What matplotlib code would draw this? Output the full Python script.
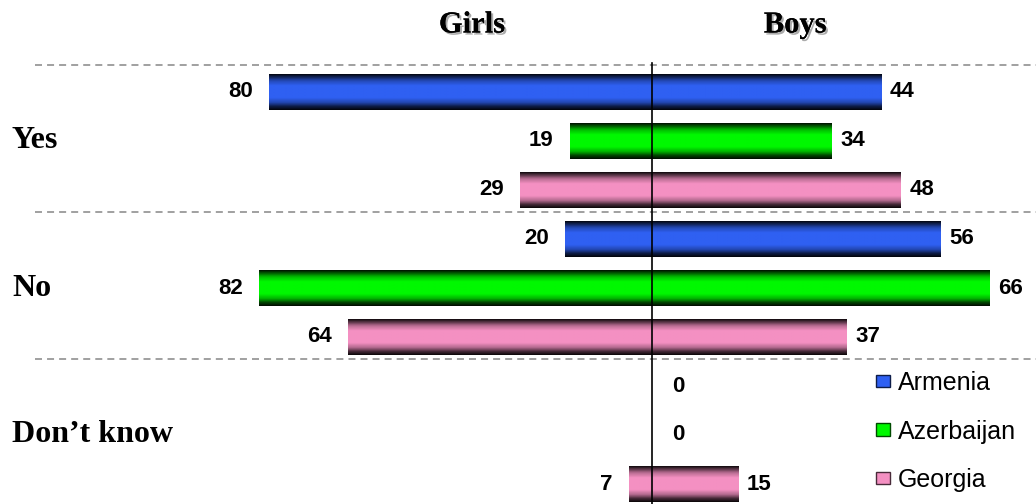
import numpy as np
import matplotlib
matplotlib.use("Agg")
import matplotlib.pyplot as plt
import matplotlib.transforms as mtrans
import matplotlib.patheffects as pe
from matplotlib.lines import Line2D
from matplotlib.patches import Patch

# --- data -------------------------------------------------------
answers   = ["Yes", "No", "Don\u2019t know"]
countries = ["Armenia", "Azerbaijan", "Georgia"]
girls = {"Armenia": [80, 20, 0], "Azerbaijan": [19, 82, 0], "Georgia": [29, 64, 7]}
boys  = {"Armenia": [44, 56, 0], "Azerbaijan": [34, 66, 0], "Georgia": [48, 37, 15]}
COL = {"Armenia": "#2f60f2", "Azerbaijan": "#00f800", "Georgia": "#f490c2"}

W, H = 1036, 504
fig = plt.figure(figsize=(W/100, H/100), dpi=100)

# one axis: girls drawn to the left (negative), boys to the right
ax = fig.add_axes([35/W, 0, (W-35)/W, 1])
ax.axis("off")
PX = 4.935          # pixels per percent
ZERO = 663.5        # pixel column of the zero line
ROW = 49.0

def grad(base):
    c = np.array(matplotlib.colors.to_rgb(base))
    t = np.linspace(0, 1, 60)
    f = np.interp(t, [0, .06, .18, .32, .66, .8, .9, 1], [.08, .3, .75, 1, 1, .72, .3, .05])
    return (f[:, None] * c[None, :])[:, None, :]

def shaded_bars(y, vals, base):
    bars = ax.barh(y, vals, height=0.73, color=base, lw=0, zorder=2)
    for b in bars:
        if b.get_width() == 0:
            continue
        x0, y0, w, h = b.get_x(), b.get_y(), b.get_width(), b.get_height()
        im = ax.imshow(grad(base), extent=(x0, x0+w, y0+h, y0), aspect="auto",
                       interpolation="bilinear", zorder=3)
        im.set_clip_path(b)
    return bars

lab_font = dict(family="Liberation Sans", weight="bold", fontsize=16, color="black")
for i, c in enumerate(countries):
    rows = np.arange(len(answers)) * 3 + i
    g = -np.array(girls[c])
    shaded_bars(rows, g, COL[c])
    shaded_bars(rows, boys[c], COL[c])
    for r, v in zip(rows, girls[c]):
        if v:
            ax.annotate(str(v), (-v, r), xytext=(-16, 0), textcoords="offset pixels",
                        ha="right", va="center", **lab_font)
    for r, v in zip(rows, boys[c]):
        ax.annotate(str(v), (v, r), xytext=(9, 0), textcoords="offset pixels",
                    ha="left", va="center", **lab_font)

ax.set_xlim((35-ZERO)/PX, (W-ZERO)/PX)
ax.set_ylim((H-92)/ROW, -92/ROW)

# dashed group separators + centre line
tr = mtrans.blended_transform_factory(fig.transFigure, ax.transData)
for g in range(len(answers)):
    fig.add_artist(Line2D([35/W, 1], [g*3 - 0.55]*2, transform=tr, color="#a0a0a0",
                          lw=1.4, ls=(0, (3.6, 2.6)), zorder=1))
fig.add_artist(Line2D([652/W, 652/W], [0, 1-63/H], transform=fig.transFigure,
                      color="black", lw=1.2, zorder=10))

# category labels
for g, a in enumerate(answers):
    fig.text(12/W, g*3 + 1, a, transform=tr, ha="left", va="center",
             family="Liberation Serif", weight="bold", fontsize=23)

# headers
shadow = [pe.withSimplePatchShadow(offset=(1.5, -1.5), shadow_rgbFace="#888888", alpha=0.7),
          pe.Normal()]
for x, s in [(472, "Girls"), (795, "Boys")]:
    fig.text(x/W, 1-25/H, s, ha="center", va="center", family="Liberation Serif",
             weight="bold", fontsize=22, path_effects=shadow)

handles = [Patch(facecolor=COL[c], edgecolor=np.array(matplotlib.colors.to_rgb(COL[c]))*0.3,
                 lw=1) for c in countries]
fig.legend(handles, countries, loc="upper left", bbox_to_anchor=(876/W, 1-371/H),
           frameon=False, prop=dict(family="Liberation Sans", size=18),
           handlelength=0.56, handleheight=0.4, handletextpad=0.3,
           labelspacing=0.98, borderaxespad=0, borderpad=0)

fig.savefig("out.png", dpi=100)
